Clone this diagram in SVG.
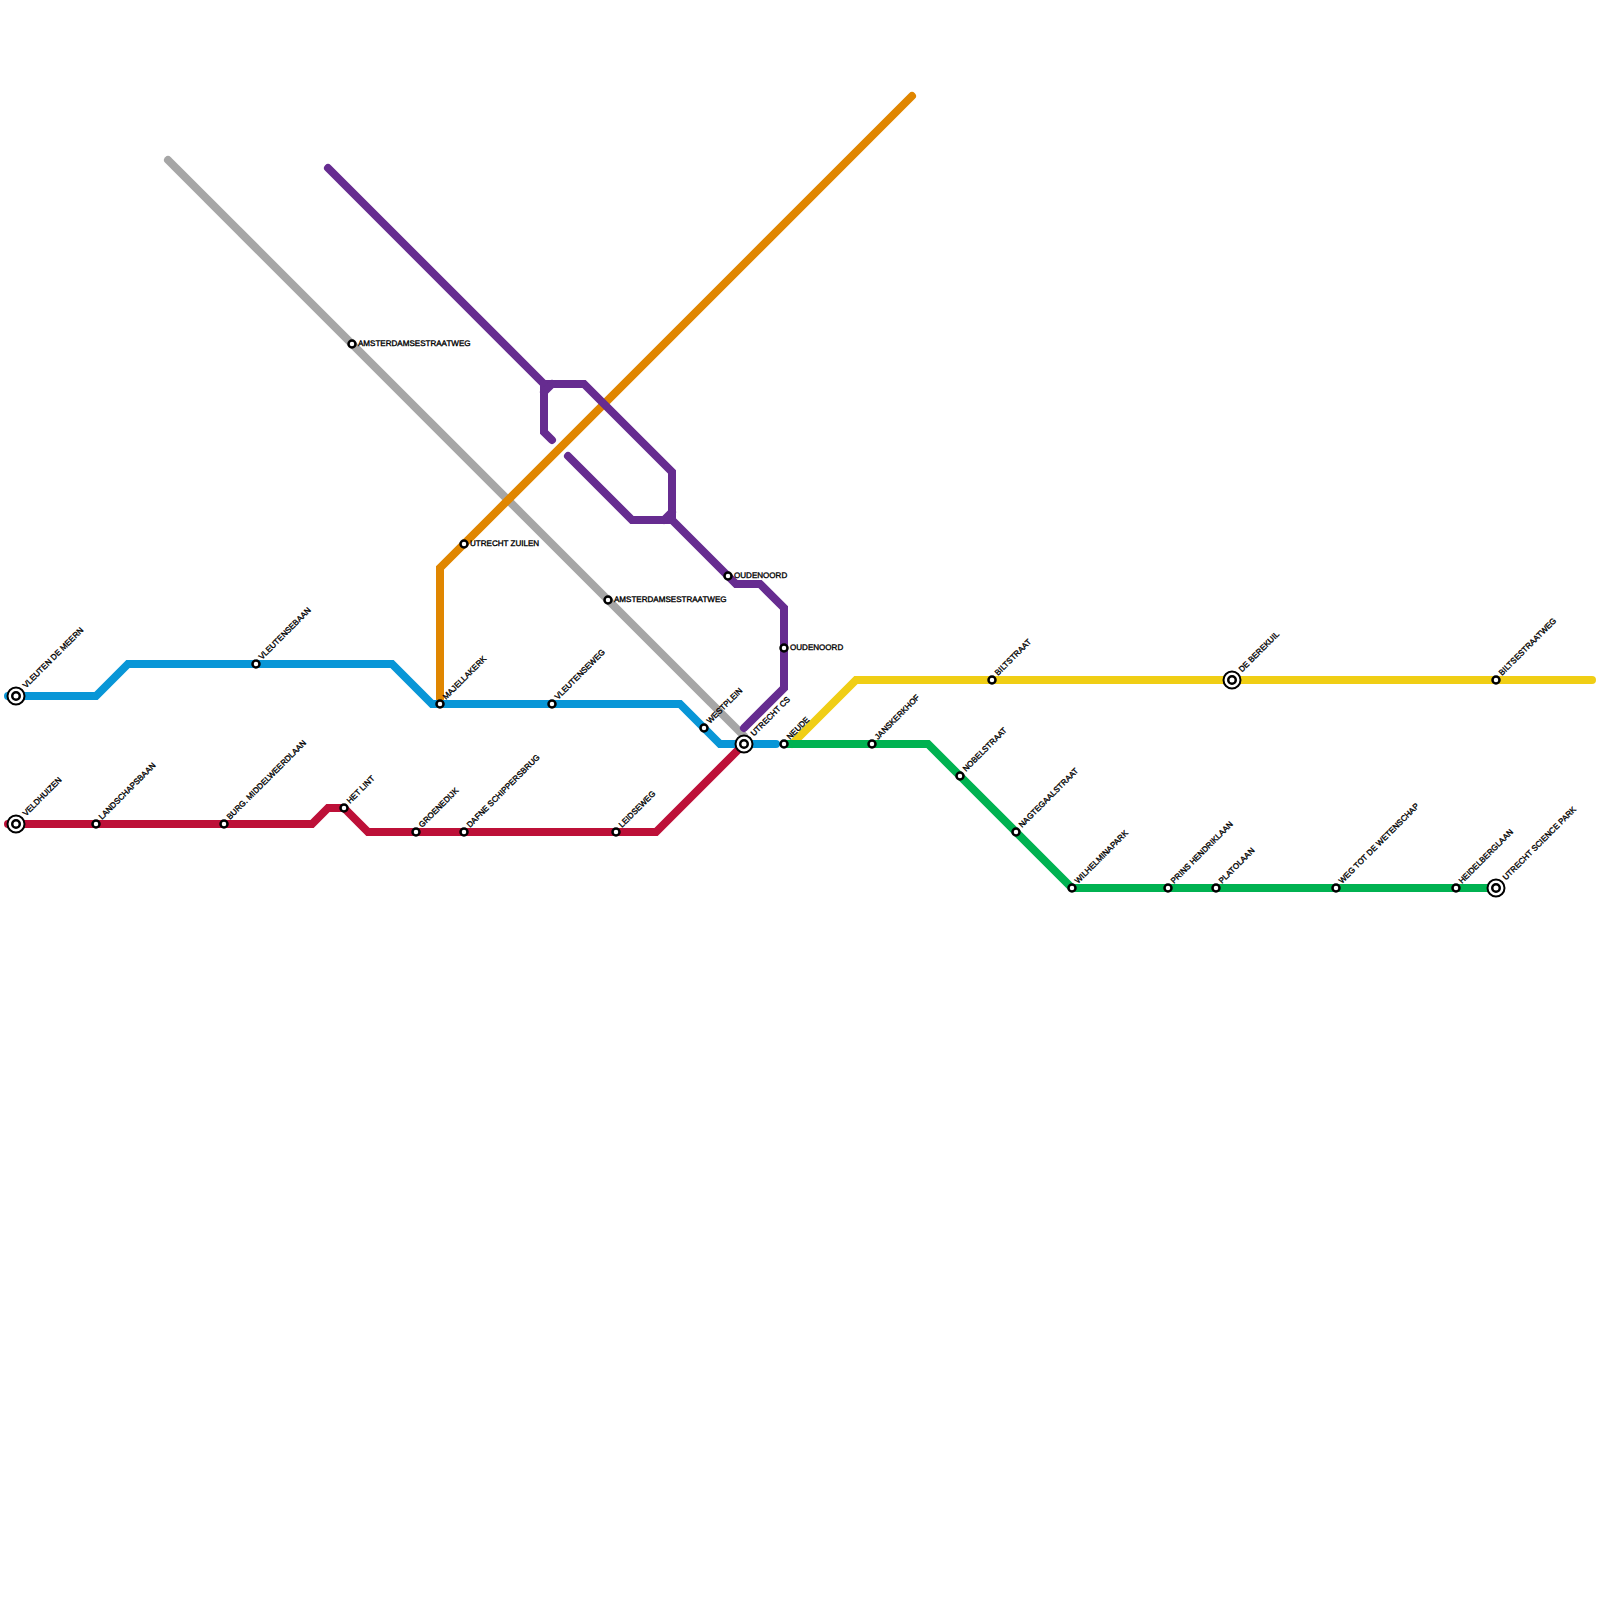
<svg xmlns="http://www.w3.org/2000/svg" width="1600" height="1600" viewBox="0 0 1600 1600">
<style>
.l{fill:none;stroke-width:8;stroke-linecap:round;stroke-linejoin:miter}
.b{stroke:#0896d7}.r{stroke:#bd1038}.o{stroke:#e08600}.g{stroke:#a6a6a6}.p{stroke:#662c90}.y{stroke:#f0ce15}.n{stroke:#00b251}
.s{fill:#fff;stroke:#000;stroke-width:2.5}
.t{fill:#fff;stroke:#000;stroke-width:2}
.u{fill:#fff;stroke:#000;stroke-width:2.5}
text{font-family:"Liberation Sans",Arial,sans-serif;font-size:8.05px;fill:#000;stroke:#000;stroke-width:.35;text-rendering:geometricPrecision}
</style>
<defs>
<g id="st"><circle class="s" r="3.5"/></g>
<g id="ic"><circle class="t" r="8.5"/><circle class="u" r="3.75"/></g>
</defs>
<rect width="1600" height="1600" fill="#fff"/>
<g id="connectors">
<path class="l g" d="M168 160L744 736"/>
<path class="l o" d="M440 704V568L912 96"/>
<path class="l p" d="M328 168L544 384H584L672 472V520H632L568 456"/>
<path class="l p" d="M552 440L544 432V384"/>
<path class="l p" d="M544 392L552 384M664 520L672 512"/>
<path class="l p" d="M672 520L736 584H760L784 608V688L744 728"/>
<path class="l b" d="M8 696H96L128 664H392L432 704H680L720 744H776"/>
<path class="l r" d="M8 824H312L328 808H344L368 832H656L744 744"/>
<path class="l y" d="M792 744L856 680H1592"/>
<path class="l n" d="M784 744H928L1072 888H1496"/>
</g>
<g id="n1"><use href="#ic" x="16" y="696"/><text transform="translate(26 688.5) rotate(-45)">VLEUTEN DE MEERN</text></g>
<g id="n2"><use href="#st" x="256" y="664"/><text transform="translate(262 660) rotate(-45)">VLEUTENSEBAAN</text></g>
<g id="n3"><use href="#st" x="440" y="704"/><text transform="translate(446 700) rotate(-45)">MAJELLAKERK</text></g>
<g id="n4"><use href="#st" x="552" y="704"/><text transform="translate(558 700) rotate(-45)">VLEUTENSEWEG</text></g>
<g id="n5"><use href="#st" x="704" y="728"/><text transform="translate(710 724) rotate(-45)">WESTPLEIN</text></g>
<g id="n6"><use href="#ic" x="744" y="744"/><text transform="translate(754 736.5) rotate(-45)">UTRECHT CS</text></g>
<g id="n7"><use href="#st" x="784" y="744"/><text transform="translate(790 740) rotate(-45)">NEUDE</text></g>
<g id="n8"><use href="#ic" x="16" y="824"/><text transform="translate(26 816.5) rotate(-45)">VELDHUIZEN</text></g>
<g id="n9"><use href="#st" x="96" y="824"/><text transform="translate(102 820) rotate(-45)">LANDSCHAPSBAAN</text></g>
<g id="n10"><use href="#st" x="224" y="824"/><text transform="translate(230 820) rotate(-45)">BURG. MIDDELWEERDLAAN</text></g>
<g id="n11"><use href="#st" x="344" y="808"/><text transform="translate(350 804) rotate(-45)">HET LINT</text></g>
<g id="n12"><use href="#st" x="416" y="832"/><text transform="translate(422 828) rotate(-45)">GROENEDIJK</text></g>
<g id="n13"><use href="#st" x="464" y="832"/><text transform="translate(470 828) rotate(-45)">DAFNE SCHIPPERSBRUG</text></g>
<g id="n14"><use href="#st" x="616" y="832"/><text transform="translate(622 828) rotate(-45)">LEIDSEWEG</text></g>
<g id="n15"><use href="#st" x="464" y="544"/><text x="470" y="546">UTRECHT ZUILEN</text></g>
<g id="n16"><use href="#st" x="352" y="344"/><text x="358" y="346">AMSTERDAMSESTRAATWEG</text></g>
<g id="n17"><use href="#st" x="608" y="600"/><text x="614" y="602">AMSTERDAMSESTRAATWEG</text></g>
<g id="n18"><use href="#st" x="728" y="576"/><text x="734" y="578">OUDENOORD</text></g>
<g id="n19"><use href="#st" x="784" y="648"/><text x="790" y="650">OUDENOORD</text></g>
<g id="n20"><use href="#st" x="992" y="680"/><text transform="translate(998 676) rotate(-45)">BILTSTRAAT</text></g>
<g id="n21"><use href="#ic" x="1232" y="680"/><text transform="translate(1242 672.5) rotate(-45)">DE BEREKUIL</text></g>
<g id="n22"><use href="#st" x="1496" y="680"/><text transform="translate(1502 676) rotate(-45)">BILTSESTRAATWEG</text></g>
<g id="n23"><use href="#st" x="872" y="744"/><text transform="translate(878 740) rotate(-45)">JANSKERKHOF</text></g>
<g id="n24"><use href="#st" x="960" y="776"/><text transform="translate(966 772) rotate(-45)">NOBELSTRAAT</text></g>
<g id="n25"><use href="#st" x="1016" y="832"/><text transform="translate(1022 828) rotate(-45)">NAGTEGAALSTRAAT</text></g>
<g id="n26"><use href="#st" x="1072" y="888"/><text transform="translate(1078 884) rotate(-45)">WILHELMINAPARK</text></g>
<g id="n27"><use href="#st" x="1168" y="888"/><text transform="translate(1174 884) rotate(-45)">PRINS HENDRIKLAAN</text></g>
<g id="n28"><use href="#st" x="1216" y="888"/><text transform="translate(1222 884) rotate(-45)">PLATOLAAN</text></g>
<g id="n29"><use href="#st" x="1336" y="888"/><text transform="translate(1342 884) rotate(-45)">WEG TOT DE WETENSCHAP</text></g>
<g id="n30"><use href="#st" x="1456" y="888"/><text transform="translate(1462 884) rotate(-45)">HEIDELBERGLAAN</text></g>
<g id="n31"><use href="#ic" x="1496" y="888"/><text transform="translate(1506 880.5) rotate(-45)">UTRECHT SCIENCE PARK</text></g>
</svg>
